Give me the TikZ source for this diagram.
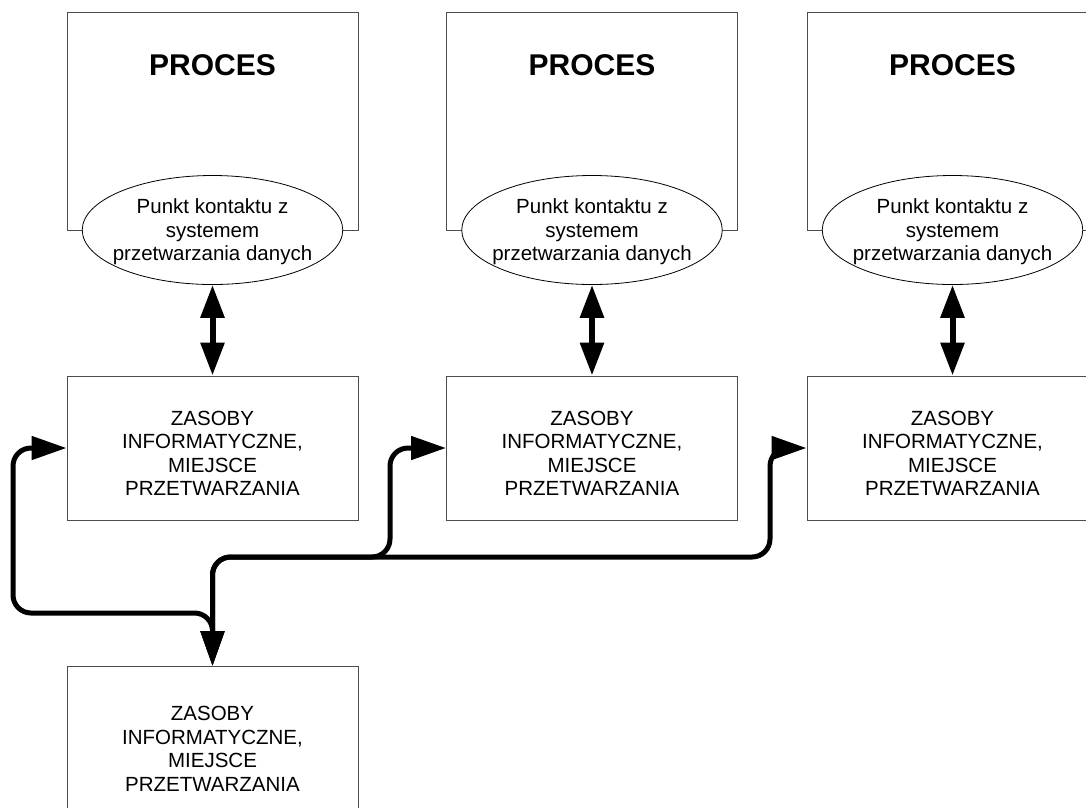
\documentclass[tikz,border=0pt]{standalone}
\usepackage{fontspec}
\setmainfont{Liberation Sans}
\usetikzlibrary{arrows.meta,shapes.geometric}

\tikzset{
  procbox/.style={draw=black!70, line width=1pt, minimum width=291pt, minimum height=218pt, inner sep=0pt},
  proctitle/.style={font=\fontsize{30}{36}\selectfont\bfseries},
  contact/.style={ellipse, draw, line width=0.8pt, fill=white, minimum height=109pt,
    inner xsep=-7.6pt, inner ysep=0pt, text depth=-2pt, align=center,
    font=\fontsize{20.5}{23.5}\selectfont},
  resbox/.style={draw=black!70, line width=1pt, minimum width=291pt, minimum height=144pt,
    text height=95pt, align=center, font=\fontsize{20.5}{23.5}\selectfont},
  dbl/.style={line width=6pt, {Triangle[length=33pt,width=23pt]}-{Triangle[length=33pt,width=23pt]}},
  link/.style={line width=5pt, rounded corners=18pt,
    {Triangle[length=35pt,width=23pt]}-{Triangle[length=35pt,width=23pt]}},
}

\begin{document}
\begin{tikzpicture}[x=1pt, y=-1pt]
  \useasboundingbox (0,0) rectangle (1086,807);

  % Three processes with their contact points and resources
  \foreach \n/\x in {1/212.5, 2/592, 3/952.5} {
    \node[procbox] (proc\n) at (\x, 121) {};
    \node[proctitle] (title\n) at (\x, 65) {PROCES};
    \node[contact] (pk\n) at (\x, 230) {Punkt kontaktu z\\systemem\\przetwarzania danych};
    \node[resbox] (zas\n) at (\x, 448) {ZASOBY\\INFORMATYCZNE,\\MIEJSCE\\PRZETWARZANIA};
    \draw[dbl] (pk\n) -- (zas\n);
  }

  % Shared resources below
  \node[resbox, anchor=north, minimum height=154pt] (zas0) at (212.5, 666)
    {ZASOBY\\INFORMATYCZNE,\\MIEJSCE\\PRZETWARZANIA};

  % Links to the shared resources
  \draw[link] (zas0.north) |- (13, 613) |- (zas1.west);
  \draw[link] (zas0.north) |- (390, 557) |- (zas2.west);
  \draw[link] (zas0.north) |- (770, 557) |- (zas3.west);
\end{tikzpicture}
\end{document}
